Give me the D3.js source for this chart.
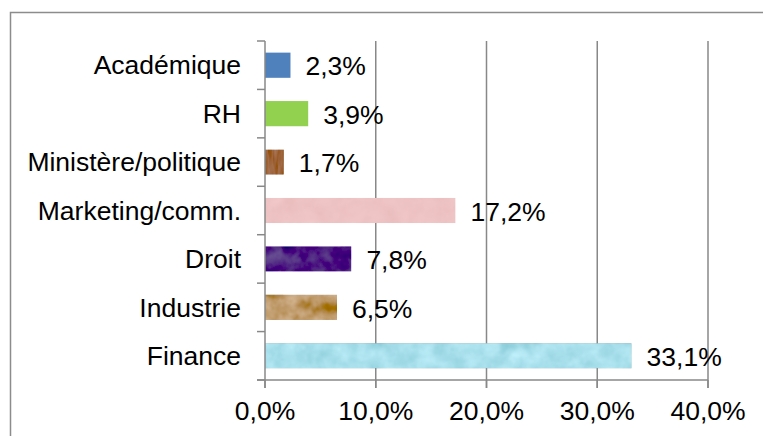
<!DOCTYPE html>
<html>
<head>
<meta charset="utf-8">
<script src="https://cdn.jsdelivr.net/npm/d3@7"></script>
<style>
  html, body { margin: 0; padding: 0; background: #fff; overflow: hidden; }
  svg { display: block; font-family: "Liberation Sans", Arial, sans-serif; }
</style>
</head>
<body>
<svg id="chart" width="763" height="436"></svg>
<script>
const categories = ['Académique', 'RH', 'Ministère/politique', 'Marketing/comm.', 'Droit', 'Industrie', 'Finance']
const values = [2.3, 3.9, 1.7, 17.2, 7.8, 6.5, 33.1]
const barColors = ['#4f81bd', '#92d050', '#9c6135', '#eec3c3', '#4a1480', '#c29e70', '#a9e0ec']
// texture strength per bar (0 = flat fill)
const textures = [0, 0, 0.25, 0.15, 0.35, 0.85, 0.5]
const xTicks = [0, 10, 20, 30, 40]

const fontSize = 26.5
const gridColor = '#888888'

const svg = d3.select('#chart')
const defs = svg.append('defs')

// 模様っぽいテクスチャ
textures.forEach((k, i) => {
  if (!k) return
  const f = defs.append('filter')
    .attr('id', `tex-${i}`)
    .attr('x', 0).attr('y', 0).attr('width', 1).attr('height', 1)
  f.append('feTurbulence')
    .attr('type', 'fractalNoise')
    .attr('baseFrequency', i === 2 ? '0.3 0.05' : '0.06')
    .attr('numOctaves', 3)
    .attr('seed', i * 7 + 3)
    .attr('result', 'noise')
  f.append('feColorMatrix')
    .attr('in', 'noise')
    .attr('type', 'matrix')
    .attr('values', '0.33 0.33 0.33 0 0  0.33 0.33 0.33 0 0  0.33 0.33 0.33 0 0  0 0 0 0 1')
    .attr('result', 'gray')
  f.append('feComposite')
    .attr('in', 'SourceGraphic')
    .attr('in2', 'gray')
    .attr('operator', 'arithmetic')
    .attr('k1', 0).attr('k2', 1).attr('k3', k).attr('k4', -k / 2)
    .attr('result', 'mix')
  f.append('feComposite')
    .attr('in', 'mix')
    .attr('in2', 'SourceGraphic')
    .attr('operator', 'in')
})

// chart frame (runs past the right and bottom edge)
svg.append('rect')
  .attr('x', 10.5).attr('y', 12.5)
  .attr('width', 800).attr('height', 500)
  .attr('fill', 'none')
  .attr('stroke', '#8c8c8c')
  .attr('stroke-width', 1.5)

const x = d3.scaleLinear().domain([0, 40]).range([265, 708])
const y = d3.scaleBand().domain(categories).range([41, 380]).paddingInner(0.48).paddingOuter(0.24)

const fmt = d3.formatLocale({ decimal: ',', thousands: ' ', grouping: [3], currency: ['', '€'] }).format('.1f')

// gridlines
svg.append('g')
  .selectAll('line')
  .data(xTicks.slice(1))
  .join('line')
  .attr('x1', d => x(d)).attr('x2', d => x(d))
  .attr('y1', y.range()[0]).attr('y2', y.range()[1] + 8)
  .attr('stroke', gridColor)
  .attr('stroke-width', 1.5)

// bars
svg.append('g')
  .selectAll('rect')
  .data(categories)
  .join('rect')
  .attr('x', x(0))
  .attr('y', d => y(d))
  .attr('width', (d, i) => x(values[i]) - x(0))
  .attr('height', y.bandwidth())
  .attr('fill', (d, i) => barColors[i])
  .attr('filter', (d, i) => (textures[i] ? `url(#tex-${i})` : null))

// y axis
const yAxis = svg.append('g').attr('stroke', gridColor).attr('stroke-width', 1.5)
yAxis.append('line')
  .attr('x1', x(0)).attr('x2', x(0))
  .attr('y1', y.range()[0]).attr('y2', y.range()[1] + 8)
const boundaries = d3.range(categories.length + 1).map(i => y.range()[0] + i * y.step())
yAxis.selectAll('line.tick')
  .data(boundaries)
  .join('line')
  .attr('class', 'tick')
  .attr('x1', x(0) - 8).attr('x2', x(0))
  .attr('y1', d => d).attr('y2', d => d)

// x axis
const xAxis = svg.append('g').attr('stroke', gridColor).attr('stroke-width', 1.5)
xAxis.append('line')
  .attr('x1', x(0) - 8).attr('x2', x(40))
  .attr('y1', y.range()[1]).attr('y2', y.range()[1])
xAxis.selectAll('line.tick')
  .data(xTicks)
  .join('line')
  .attr('class', 'tick')
  .attr('x1', d => x(d)).attr('x2', d => x(d))
  .attr('y1', y.range()[1]).attr('y2', y.range()[1] + 8)

svg.append('g')
  .selectAll('text')
  .data(xTicks)
  .join('text')
  .attr('x', d => x(d))
  .attr('y', y.range()[1] + 40)
  .attr('text-anchor', 'middle')
  .attr('font-size', fontSize)
  .attr('fill', '#000')
  .text(d => fmt(d) + '%')

// category labels
svg.append('g')
  .selectAll('text')
  .data(categories)
  .join('text')
  .attr('x', x(0) - 24)
  .attr('y', d => y(d) + y.bandwidth() / 2 + fontSize * 0.35)
  .attr('text-anchor', 'end')
  .attr('font-size', fontSize)
  .attr('fill', '#000')
  .text(d => d)

// value labels
svg.append('g')
  .selectAll('text')
  .data(categories)
  .join('text')
  .attr('x', (d, i) => x(values[i]) + 15)
  .attr('y', d => y(d) + y.bandwidth() / 2 + fontSize * 0.35 + 1)
  .attr('font-size', fontSize)
  .attr('fill', '#000')
  .text((d, i) => fmt(values[i]) + '%')
</script>
</body>
</html>
